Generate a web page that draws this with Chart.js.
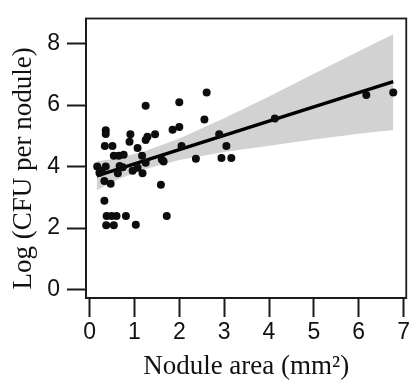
<!DOCTYPE html>
<html><head><meta charset="utf-8">
<script src="https://cdn.jsdelivr.net/npm/chart.js@4/dist/chart.umd.min.js"></script>
<style>html,body{margin:0;padding:0;background:#fff}#wrap{width:414px;height:380px}</style>
</head><body><div id="wrap"><canvas id="c" width="414" height="380"></canvas></div>
<script>
// Observed nodules
const areaX = [0.17,0.22,0.27,0.33,0.47,0.36,0.33,0.38,0.49,0.60,0.81,0.37,0.54,1.03,1.59,1.72,
  0.36,0.36,0.34,0.51,0.54,0.65,0.76,0.91,0.89,1.07,1.25,1.29,1.25,1.46,1.17,
  0.74,0.67,0.63,0.96,1.07,1.18,1.25,1.61,1.65,1.85,2.00,2.00,2.05,2.37,2.61,2.56,2.89,3.05,2.94,3.16,4.13,6.17,6.77];
const cfuY = [4.00,3.80,3.86,3.53,3.44,4.00,2.89,2.39,2.39,2.39,2.39,2.09,2.09,2.11,3.41,2.39,
  5.18,5.06,4.67,4.67,4.35,4.35,4.38,5.05,4.81,4.60,5.98,4.97,4.86,5.05,4.35,
  3.98,4.02,3.78,3.86,3.96,3.78,4.12,4.23,4.16,5.20,5.29,6.09,4.67,4.25,6.41,5.53,5.05,4.67,4.28,4.28,5.56,6.33,6.41];
// Fitted line
const fitX = [0.16, 6.77];
const fitY = [3.70, 6.76];
// Confidence band
const bandX = [0.16,0.6,1.2,2,3,4,5,6,6.77];
const bandUpper = [4.17,4.26,4.48,4.91,5.57,6.28,7.02,7.75,8.30];
const bandLower = [3.23,3.56,3.90,4.21,4.47,4.68,4.88,5.07,5.19];
// Ticks
const xTicks = [0,1,2,3,4,5,6,7];
const yTicks = [0,2,4,6,8];

const pts = areaX.map((x,i)=>({x:x,y:cfuY[i]}));
const fit = fitX.map((x,i)=>({x:x,y:fitY[i]}));
const up = bandX.map((x,i)=>({x:x,y:bandUpper[i]}));
const lo = bandX.map((x,i)=>({x:x,y:bandLower[i]}));

const boxPlugin = {
  id:'box',
  afterDatasetsDraw(chart){
    const a = chart.chartArea, ctx = chart.ctx;
    ctx.save();
    ctx.strokeStyle = '#1a1a1a';
    ctx.lineWidth = 1.8;
    ctx.strokeRect(a.left, a.top, a.right-a.left, a.bottom-a.top);
    ctx.restore();
  }
};

const tickFont = {family:'"Liberation Sans", Arial, sans-serif', size:23, lineHeight:1};
const titleFont = {family:'"Liberation Serif", "Times New Roman", serif', size:27, lineHeight:1};

new Chart(document.getElementById('c'), {
  type:'scatter',
  data:{datasets:[
    {data:pts, backgroundColor:'#0d0d0d', borderColor:'#0d0d0d', pointRadius:4, borderWidth:0, showLine:false},
    {data:fit, showLine:true, borderColor:'#000', borderWidth:3.4, pointRadius:0, fill:false},
    {data:up, showLine:true, borderWidth:0, borderColor:'rgba(0,0,0,0)', pointRadius:0, fill:'+1', backgroundColor:'#d2d2d2', tension:0},
    {data:lo, showLine:true, borderWidth:0, borderColor:'rgba(0,0,0,0)', pointRadius:0, fill:false, tension:0}
  ]},
  options:{
    responsive:false, animation:false,
    layout:{padding:{top:13, right:3, left:0, bottom:0}},
    plugins:{legend:{display:false}, tooltip:{enabled:false}},
    scales:{
      x:{type:'linear', min:-0.08, max:7.06,
        afterFit:(s)=>{s.height = 82;},
        afterBuildTicks:(s)=>{s.ticks = xTicks.map(v=>({value:v}));},
        ticks:{font:tickFont, color:'#111', padding:4, maxRotation:0, includeBounds:false},
        grid:{drawOnChartArea:false, drawTicks:true, tickLength:19, tickColor:'#1a1a1a', tickWidth:2},
        border:{display:true, color:'#1a1a1a', width:1.8},
        title:{display:true, text:'Nodule area (mm²)', font:titleFont, color:'#111', padding:{top:0,bottom:0}}
      },
      y:{type:'linear', min:-0.277, max:8.816,
        afterFit:(s)=>{s.width = 86;},
        afterBuildTicks:(s)=>{s.ticks = yTicks.map(v=>({value:v}));},
        ticks:{font:tickFont, color:'#111', padding:7, includeBounds:false},
        grid:{drawOnChartArea:false, drawTicks:true, tickLength:19, tickColor:'#1a1a1a', tickWidth:2},
        border:{display:true, color:'#1a1a1a', width:1.8},
        title:{display:true, text:'Log (CFU per nodule)   ', font:titleFont, color:'#111', padding:{top:10,bottom:0}}
      }
    }
  },
  plugins:[boxPlugin]
});
</script></body></html>
